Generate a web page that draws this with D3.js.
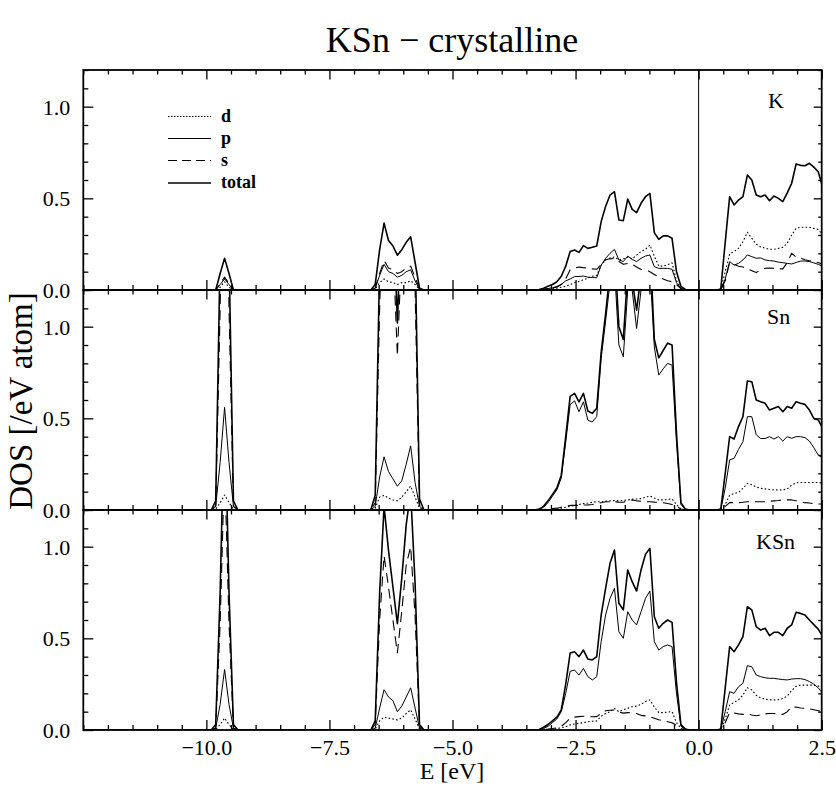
<!DOCTYPE html>
<html>
<head>
<meta charset="utf-8">
<script src="https://cdn.jsdelivr.net/npm/d3@7"></script>
<style>
  html, body { margin: 0; padding: 0; background: #fff; }
  svg { display: block; }
  text { font-family: "Liberation Serif", "Times New Roman", serif; fill: #000; }
</style>
</head>
<body>
<svg id="chart" width="836" height="786"></svg>
<script>
// ---------------- DATA ----------------
const titleText = "KSn \u2212 crystalline";
const panelNames = ["K", "Sn", "KSn"];
const orbitals = ["d", "p", "s", "total"];
const xTickLabels = ["\u221210.0", "\u22127.5", "\u22125.0", "\u22122.5", "0.0", "2.5"];
const xTickValues = [-10, -7.5, -5, -2.5, 0, 2.5];
const yTickValues = [0, 0.5, 1.0];
const yTickLabels = ["0.0", "0.5", "1.0"];

// energy grid [eV] : start, band 1, band 2, valence band, conduction band
const energy = [-12.5,
  -9.90,-9.81,-9.72,-9.63,-9.54,-9.45,-9.36,
  -6.66,-6.57,-6.48,-6.39,-6.30,-6.21,-6.12,-6.03,-5.94,-5.85,-5.76,-5.67,-5.58,
  -3.33,-3.24,-3.15,-3.06,-2.97,-2.88,-2.79,-2.70,-2.61,-2.52,-2.43,-2.34,-2.25,-2.16,-2.07,-1.98,-1.89,-1.80,
  -1.71,-1.62,-1.53,-1.44,-1.35,-1.26,-1.17,-1.08,-0.99,-0.90,-0.81,-0.72,-0.63,-0.54,-0.45,-0.36,-0.27,-0.18,
  0.36,0.45,0.54,0.63,0.72,0.81,0.90,0.99,1.08,1.17,1.26,1.35,1.44,1.53,1.62,1.71,1.80,1.89,1.98,2.07,2.16,2.25,2.34,2.43,2.52];

// ---- K ----
const K_total = [0,
  0,0,0.09,0.173,0.09,0,0,
  0,0.03,0.22,0.365,0.27,0.24,0.19,0.22,0.26,0.29,0.15,0.01,0,
  0,0.003,0.01,0.02,0.03,0.045,0.075,0.13,0.21,0.218,0.205,0.242,0.227,0.233,0.24,0.373,0.455,0.518,
  0.536,0.382,0.378,0.496,0.44,0.422,0.473,0.509,0.527,0.313,0.276,0.295,0.295,0.282,0.10,0.02,0.003,0,
  0,0.005,0.26,0.509,0.464,0.49,0.509,0.627,0.6,0.518,0.509,0.518,0.487,0.513,0.5,0.482,0.53,0.582,0.687,0.68,0.678,0.691,0.67,0.645,0.56];
const K_s = [0,
  0,0,0.035,0.07,0.035,0,0,
  0,0.01,0.09,0.16,0.12,0.11,0.09,0.1,0.12,0.13,0.07,0.005,0,
  0,0.002,0.004,0.008,0.012,0.015,0.03,0.06,0.11,0.12,0.125,0.122,0.12,0.115,0.113,0.14,0.165,0.17,
  0.172,0.155,0.14,0.145,0.14,0.125,0.112,0.11,0.1,0.085,0.07,0.06,0.05,0.045,0.03,0.008,0.001,0,
  0,0.001,0.05,0.15,0.14,0.13,0.125,0.115,0.105,0.095,0.11,0.118,0.12,0.118,0.115,0.115,0.15,0.2,0.18,0.175,0.165,0.16,0.155,0.15,0.14];
const K_p = [0,
  0,0,0.03,0.06,0.03,0,0,
  0,0.01,0.08,0.14,0.1,0.09,0.07,0.08,0.1,0.11,0.05,0.003,0,
  0,0.001,0.004,0.008,0.012,0.02,0.03,0.05,0.06,0.073,0.074,0.076,0.07,0.068,0.067,0.136,0.173,0.2,
  0.222,0.164,0.155,0.185,0.167,0.155,0.173,0.185,0.191,0.127,0.118,0.118,0.118,0.113,0.04,0.008,0.001,0,
  0,0.001,0.06,0.155,0.136,0.145,0.164,0.191,0.182,0.173,0.175,0.164,0.16,0.158,0.152,0.149,0.145,0.142,0.15,0.158,0.158,0.155,0.148,0.14,0.13];
const K_d = [0,
  0,0,0.015,0.045,0.015,0,0,
  0,0.005,0.04,0.06,0.045,0.04,0.03,0.04,0.04,0.05,0.03,0.002,0,
  0,0,0.002,0.004,0.006,0.01,0.015,0.02,0.03,0.04,0.047,0.055,0.065,0.075,0.08,0.135,0.165,0.175,
  0.18,0.165,0.17,0.18,0.17,0.19,0.21,0.222,0.245,0.185,0.13,0.13,0.138,0.148,0.05,0.01,0.001,0,
  0,0.003,0.1,0.196,0.21,0.227,0.264,0.315,0.282,0.25,0.235,0.228,0.222,0.222,0.227,0.233,0.255,0.3,0.336,0.342,0.342,0.342,0.336,0.33,0.3];

// ---- Sn ----
const Sn_total = [0,
  0,0.05,1.4,3.4,1.4,0.05,0,
  0,0.08,1.35,2.3,1.9,1.7,1.02,1.7,2.1,2.4,1.45,0.06,0,
  0,0.005,0.02,0.05,0.085,0.12,0.19,0.4,0.62,0.636,0.59,0.636,0.54,0.527,0.555,0.86,1.07,1.3,
  1.43,1.0,0.93,1.3,1.25,1.09,1.28,1.41,1.455,0.93,0.83,0.87,0.91,0.9,0.42,0.04,0.005,0,
  0,0.005,0.2,0.4,0.387,0.455,0.509,0.704,0.7,0.6,0.591,0.582,0.545,0.555,0.564,0.536,0.564,0.555,0.591,0.582,0.576,0.545,0.5,0.491,0.445];
const Sn_s = [0,
  0,0.02,1.1,2.8,1.1,0.02,0,
  0,0.04,1.1,1.9,1.6,1.45,0.84,1.45,1.8,1.95,1.2,0.03,0,
  0,0.001,0.003,0.005,0.008,0.01,0.015,0.02,0.025,0.025,0.025,0.027,0.028,0.03,0.035,0.04,0.045,0.045,
  0.045,0.043,0.042,0.05,0.055,0.05,0.048,0.045,0.045,0.043,0.042,0.04,0.035,0.03,0.02,0.005,0.001,0,
  0,0.001,0.02,0.04,0.04,0.04,0.042,0.045,0.045,0.045,0.045,0.045,0.048,0.05,0.052,0.055,0.055,0.055,0.05,0.045,0.04,0.038,0.035,0.033,0.033];
const Sn_p = [0,
  0,0.02,0.26,0.56,0.26,0.02,0,
  0,0.02,0.18,0.29,0.21,0.17,0.13,0.16,0.25,0.35,0.15,0.02,0,
  0,0.003,0.015,0.04,0.075,0.11,0.175,0.37,0.575,0.595,0.536,0.59,0.49,0.48,0.51,0.827,1.03,1.24,
  1.32,0.9,0.836,1.2,1.2,0.99,1.2,1.25,1.32,0.89,0.736,0.77,0.8,0.79,0.37,0.03,0.004,0,
  0,0.002,0.12,0.273,0.282,0.33,0.373,0.509,0.509,0.41,0.39,0.39,0.4,0.387,0.4,0.376,0.4,0.391,0.4,0.4,0.395,0.376,0.34,0.3,0.282];
const Sn_d = [0,
  0,0.005,0.04,0.082,0.04,0.005,0,
  0,0.01,0.07,0.08,0.065,0.055,0.05,0.07,0.1,0.13,0.07,0.01,0,
  0,0,0,0.001,0.002,0.005,0.01,0.015,0.02,0.025,0.03,0.035,0.038,0.042,0.045,0.045,0.048,0.05,
  0.052,0.05,0.052,0.055,0.058,0.06,0.062,0.07,0.076,0.065,0.055,0.055,0.058,0.06,0.03,0.005,0.001,0,
  0,0.002,0.03,0.08,0.09,0.096,0.118,0.145,0.138,0.125,0.118,0.115,0.112,0.11,0.109,0.11,0.115,0.136,0.148,0.15,0.15,0.15,0.15,0.15,0.148];

// ---- KSn ----
const KSn_total = [0,
  0,0.03,0.75,1.8,0.75,0.03,0,
  0,0.05,0.75,1.22,0.98,0.78,0.58,0.83,1.12,1.3,0.8,0.03,0,
  0,0.003,0.015,0.03,0.05,0.07,0.11,0.25,0.42,0.427,0.4,0.436,0.387,0.382,0.4,0.627,0.773,0.909,
  0.982,0.691,0.655,0.873,0.809,0.758,0.873,0.958,0.991,0.618,0.555,0.582,0.6,0.587,0.26,0.03,0.005,0,
  0,0.005,0.23,0.455,0.427,0.464,0.509,0.673,0.655,0.564,0.545,0.555,0.515,0.533,0.533,0.515,0.555,0.573,0.642,0.636,0.627,0.6,0.575,0.55,0.509];
const KSn_s = [0,
  0,0.01,0.58,1.45,0.58,0.01,0,
  0,0.03,0.6,0.95,0.78,0.6,0.42,0.65,0.9,1.0,0.62,0.02,0,
  0,0.001,0.003,0.005,0.008,0.012,0.02,0.04,0.065,0.07,0.073,0.075,0.073,0.072,0.073,0.09,0.105,0.108,
  0.109,0.098,0.092,0.095,0.093,0.09,0.08,0.077,0.072,0.064,0.056,0.05,0.045,0.04,0.025,0.005,0.001,0,
  0,0.002,0.04,0.095,0.093,0.088,0.085,0.088,0.082,0.078,0.082,0.088,0.09,0.09,0.088,0.085,0.1,0.127,0.125,0.12,0.118,0.115,0.11,0.105,0.1];
const KSn_p = [0,
  0,0.01,0.14,0.33,0.14,0.01,0,
  0,0.01,0.12,0.22,0.18,0.16,0.1,0.13,0.18,0.23,0.12,0.01,0,
  0,0.002,0.008,0.02,0.04,0.06,0.1,0.2,0.32,0.327,0.3,0.336,0.291,0.273,0.291,0.482,0.627,0.718,
  0.773,0.536,0.5,0.645,0.6,0.573,0.645,0.718,0.758,0.482,0.436,0.455,0.464,0.455,0.2,0.02,0.003,0,
  0,0.003,0.1,0.209,0.2,0.236,0.255,0.351,0.345,0.3,0.291,0.285,0.282,0.282,0.278,0.275,0.273,0.278,0.28,0.28,0.275,0.264,0.25,0.23,0.2];
const KSn_d = [0,
  0,0.003,0.03,0.065,0.03,0.003,0,
  0,0.005,0.05,0.07,0.065,0.06,0.055,0.065,0.09,0.11,0.06,0.005,0,
  0,0,0.001,0.002,0.003,0.007,0.012,0.018,0.028,0.033,0.036,0.04,0.045,0.048,0.05,0.075,0.09,0.1,
  0.118,0.1,0.11,0.118,0.127,0.13,0.14,0.155,0.164,0.125,0.095,0.095,0.098,0.1,0.04,0.008,0.001,0,
  0,0.003,0.06,0.136,0.151,0.165,0.19,0.231,0.218,0.19,0.175,0.168,0.165,0.164,0.165,0.172,0.185,0.215,0.238,0.245,0.245,0.245,0.245,0.24,0.225];

const panelData = [
  { d: K_d,   p: K_p,   s: K_s,   total: K_total },
  { d: Sn_d,  p: Sn_p,  s: Sn_s,  total: Sn_total },
  { d: KSn_d, p: KSn_p, s: KSn_s, total: KSn_total }
];

// ---------------- LAYOUT ----------------
const svg = d3.select("#chart");
const left = 83.3, right = 821.7, top0 = 70, panelH = 220;
const serif = '"Liberation Serif", "Times New Roman", serif';

const x = d3.scaleLinear().domain([-12.5, 2.5]).range([left, right]);

const styles = {
  d:     { dash: "1.6,2.2", width: 1.1 },
  p:     { dash: null,      width: 1.0 },
  s:     { dash: "10,6",    width: 1.1 },
  total: { dash: null,      width: 1.6 }
};
const labelPos = [ {x: 768, dy: 38}, {x: 767, dy: 34}, {x: 756, dy: 39} ];

const minorX = d3.range(-12.5, 2.51, 0.5);
const minorY = d3.range(0, 1.21, 0.1).map(v => +v.toFixed(2));

panelData.forEach((series, i) => {
  const pt = top0 + i * panelH, pb = pt + panelH;
  const y = d3.scaleLinear().domain([0, 1.2]).range([pb, pt]);
  const g = svg.append("g");

  const clipId = "clip" + i;
  svg.append("clipPath").attr("id", clipId)
    .append("rect").attr("x", left).attr("y", pt).attr("width", right - left).attr("height", panelH);

  const lineGen = d3.line().x((d, j) => x(energy[j])).y(d => y(d));
  const lines = g.append("g").attr("clip-path", `url(#${clipId})`);
  orbitals.forEach(o => {
    const st = styles[o];
    lines.append("path").datum(series[o])
      .attr("d", lineGen)
      .attr("fill", "none").attr("stroke", "#000")
      .attr("stroke-width", st.width)
      .attr("stroke-linejoin", "round")
      .attr("stroke-dasharray", st.dash);
  });

  const addAxis = (axis, tx, ty, showLabels) => {
    const a = g.append("g").attr("transform", `translate(${tx},${ty})`).call(axis);
    a.select(".domain").remove();
    a.selectAll("line").attr("stroke", "#000").attr("stroke-width", 1.3);
    a.selectAll("text").attr("font-family", serif).attr("font-size", 22).attr("fill", "#000");
    if (!showLabels) a.selectAll("text").remove();
    return a;
  };
  const majorY = yTickValues;
  addAxis(d3.axisLeft(y).tickValues(minorY.filter(v => !majorY.includes(v))).tickSize(-5), left, 0, false);
  const la = addAxis(d3.axisLeft(y).tickValues(majorY).tickSize(-10).tickPadding(13)
      .tickFormat((d, j) => yTickLabels[j]), left, 0, true);
  la.selectAll("text").attr("dy", "0.34em");
  addAxis(d3.axisRight(y).tickValues(minorY.filter(v => !majorY.includes(v))).tickSize(-3.5), right, 0, false);
  addAxis(d3.axisRight(y).tickValues(majorY).tickSize(-8), right, 0, false);
  addAxis(d3.axisTop(x).tickValues(minorX.filter(v => !xTickValues.includes(v))).tickSize(-4.5), 0, pt, false);
  addAxis(d3.axisTop(x).tickValues(xTickValues).tickSize(-9.5), 0, pt, false);
  addAxis(d3.axisBottom(x).tickValues(minorX.filter(v => !xTickValues.includes(v))).tickSize(-5), 0, pb, false);
  addAxis(d3.axisBottom(x).tickValues(xTickValues).tickSize(-10).tickPadding(9)
      .tickFormat((d, j) => xTickLabels[j]), 0, pb, i === 2);

  g.append("rect").attr("x", left).attr("y", pt).attr("width", right - left).attr("height", panelH)
    .attr("fill", "none").attr("stroke", "#000").attr("stroke-width", 1.8);

  g.append("text").attr("x", labelPos[i].x).attr("y", pt + labelPos[i].dy)
    .attr("font-size", 22).text(panelNames[i]);
});

// Fermi level line
svg.append("line").attr("x1", x(0)).attr("x2", x(0)).attr("y1", top0).attr("y2", top0 + 3 * panelH)
  .attr("stroke", "#000").attr("stroke-width", 1);

// Legend
const legendY = [116.5, 138.5, 160.5, 183];
const lg = svg.append("g");
orbitals.forEach((o, j) => {
  const st = styles[o];
  lg.append("line").attr("x1", 168).attr("x2", 211).attr("y1", legendY[j]).attr("y2", legendY[j])
    .attr("stroke", "#000").attr("stroke-width", o === "total" ? 1.5 : 1.1)
    .attr("stroke-dasharray", st.dash ? (o === "d" ? "1.5,1.5" : "9,5") : null);
  lg.append("text").attr("x", 221).attr("y", legendY[j] + 5)
    .attr("font-size", 18).attr("font-weight", "bold").text(o);
});

// Title & axis labels
svg.append("text").attr("x", 452).attr("y", 52).attr("text-anchor", "middle")
  .attr("font-size", 36).text(titleText);
svg.append("text").attr("x", 452).attr("y", 779).attr("text-anchor", "middle")
  .attr("font-size", 24).text("E [eV]");
svg.append("text").attr("transform", "translate(32,401) rotate(-90)").attr("text-anchor", "middle")
  .attr("font-size", 33).text("DOS [/eV atom]");
</script>
</body>
</html>
